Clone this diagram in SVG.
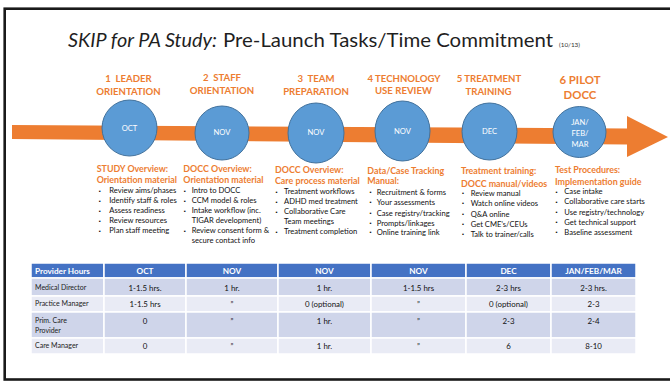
<svg xmlns="http://www.w3.org/2000/svg" width="670" height="382" viewBox="0 0 670 382">
<style>
text{font-family:Lato,"Open Sans","Liberation Sans",sans-serif}
.ttl{font-size:20px;fill:#1f1f1f}
.hd{font-size:9.6px;font-weight:bold;fill:#ED7D31;text-anchor:middle}
.hd6{font-size:11.4px;font-weight:bold;fill:#ED7D31;text-anchor:middle}
.cir{fill:#5B9BD5;stroke:#41719C;stroke-width:1}
.ct{font-size:7.6px;fill:#fff;text-anchor:middle}
.ch{font-size:8.9px;font-weight:bold;fill:#ED7D31}
.bl{font-size:7.6px;fill:#111}
.bu{font-size:5px;fill:#111;font-family:"DejaVu Sans",sans-serif}
.th{fill:#4472C4;stroke:#fff;stroke-width:1.5}
.r1{fill:#CFD5EA;stroke:#fff;stroke-width:1.5}
.r2{fill:#E9EBF5;stroke:#fff;stroke-width:1.5}
.tht{font-size:8.2px;font-weight:bold;fill:#fff}
.lab{font-size:7px;fill:#222}
.num{font-size:7.9px;fill:#111;text-anchor:middle}
</style>
<rect x="0" y="0" width="670" height="382" fill="#fff"/>
<rect x="4.7" y="8.7" width="700" height="370.8" fill="none" stroke="#1a1a1a" stroke-width="2.6"/>
<g id="title">
<text class="ttl" x="68" y="47" font-style="italic" fill="#000" textLength="149" lengthAdjust="spacingAndGlyphs">SKIP for PA Study:</text>
<text class="ttl" x="223" y="47" textLength="330" lengthAdjust="spacingAndGlyphs">Pre-Launch Tasks/Time Commitment</text>
<text x="559" y="47" font-size="5" fill="#333" textLength="21" lengthAdjust="spacingAndGlyphs">(10/13)</text>
</g>
<g id="connectors">
<polygon points="12,125 627,128.5 627,116 668,137 627,157 627,144.5 12,139" fill="#ED7D31"/>
</g>
<g id="node1">
<text class="hd" x="128.5" y="82" xml:space="preserve">1  LEADER</text>
<text class="hd" x="128.5" y="95">ORIENTATION</text>
<ellipse class="cir" cx="129.5" cy="128" rx="27.5" ry="28"/>
<text class="ct" x="129.5" y="130.7">OCT</text>
</g>
<g id="node2">
<text class="hd" x="222" y="81" xml:space="preserve">2  STAFF</text>
<text class="hd" x="222" y="94">ORIENTATION</text>
<ellipse class="cir" cx="222" cy="133" rx="27" ry="27"/>
<text class="ct" x="222" y="134.5">NOV</text>
</g>
<g id="node3">
<text class="hd" x="316" y="82" xml:space="preserve">3  TEAM</text>
<text class="hd" x="316" y="95">PREPARATION</text>
<ellipse class="cir" cx="316" cy="133" rx="28" ry="30"/>
<text class="ct" x="316" y="135">NOV</text>
</g>
<g id="node4">
<text class="hd" x="404" y="82">4 TECHNOLOGY</text>
<text class="hd" x="403.5" y="94">USE REVIEW</text>
<ellipse class="cir" cx="402.5" cy="131" rx="27.5" ry="30"/>
<text class="ct" x="402.5" y="133.5">NOV</text>
</g>
<g id="node5">
<text class="hd" x="489" y="82">5 TREATMENT</text>
<text class="hd" x="488.5" y="95">TRAINING</text>
<ellipse class="cir" cx="489.5" cy="131.5" rx="27.5" ry="28.5"/>
<text class="ct" x="489.5" y="134.3">DEC</text>
</g>
<g id="node6">
<text class="hd6" x="580" y="84">6 PILOT</text>
<text class="hd6" x="580" y="99">DOCC</text>
<ellipse class="cir" cx="579.5" cy="132" rx="26.5" ry="25.5"/>
<text class="ct" x="580" y="124.7">JAN/</text>
<text class="ct" x="580" y="135.7">FEB/</text>
<text class="ct" x="580" y="146.7">MAR</text>
</g>
<g id="col1">
<text class="ch" x="96.7" y="172.3">STUDY Overview:</text>
<text class="ch" x="96.7" y="183.3">Orientation material</text>
<g class="bu"><text x="98.5" y="192.5">▪</text><text x="98.5" y="202.5">▪</text><text x="98.5" y="212.5">▪</text><text x="98.5" y="222.5">▪</text><text x="98.5" y="232.5">▪</text></g>
<text class="bl" x="109.3" y="193.3">Review aims/phases</text>
<text class="bl" x="109.3" y="203.3">Identify staff &amp; roles</text>
<text class="bl" x="109.3" y="213.3">Assess readiness</text>
<text class="bl" x="109.3" y="223.3">Review resources</text>
<text class="bl" x="109.3" y="233.3">Plan staff meeting</text>
</g>
<g id="col2">
<text class="ch" x="183.3" y="172.3">DOCC Overview:</text>
<text class="ch" x="183.3" y="183.3">Orientation material</text>
<g class="bu"><text x="183.5" y="192.5">▪</text><text x="183.5" y="202.5">▪</text><text x="183.5" y="212.5">▪</text><text x="183.5" y="232.5">▪</text></g>
<text class="bl" x="191.7" y="193.3">Intro to DOCC</text>
<text class="bl" x="191.7" y="203.3">CCM model &amp; roles</text>
<text class="bl" x="191.7" y="213.3">Intake workflow (inc.</text>
<text class="bl" x="191.7" y="223.3">TIGAR development)</text>
<text class="bl" x="191.7" y="233.3">Review consent form &amp;</text>
<text class="bl" x="191.7" y="243.3">secure contact info</text>
</g>
<g id="col3">
<text class="ch" x="275" y="173.3">DOCC Overview:</text>
<text class="ch" x="275" y="184.3">Care process material</text>
<g class="bu"><text x="275.2" y="193.5">▪</text><text x="275.2" y="203.5">▪</text><text x="275.2" y="213.5">▪</text><text x="275.2" y="233.5">▪</text></g>
<text class="bl" x="284" y="194.3">Treatment workflows</text>
<text class="bl" x="284" y="204.3">ADHD med treatment</text>
<text class="bl" x="284" y="214.3">Collaborative Care</text>
<text class="bl" x="284" y="224.3">Team meetings</text>
<text class="bl" x="284" y="234.3">Treatment completion</text>
</g>
<g id="col4">
<text class="ch" x="367.3" y="174">Data/Case Tracking</text>
<text class="ch" x="367.3" y="184.3">Manual:</text>
<g class="bu"><text x="369.2" y="194.2">▪</text><text x="369.2" y="204.2">▪</text><text x="369.2" y="214.9">▪</text><text x="369.2" y="224.9">▪</text><text x="369.2" y="234.2">▪</text></g>
<text class="bl" x="376.7" y="195">Recruitment &amp; forms</text>
<text class="bl" x="376.7" y="205">Your assessments</text>
<text class="bl" x="376.7" y="215.7">Case registry/tracking</text>
<text class="bl" x="376.7" y="225.7">Prompts/linkages</text>
<text class="bl" x="376.7" y="235">Online training link</text>
</g>
<g id="col5">
<text class="ch" x="461" y="174">Treatment training:</text>
<text class="ch" x="461" y="186.7">DOCC manual/videos</text>
<g class="bu"><text x="461.8" y="194.9">▪</text><text x="461.8" y="204.9">▪</text><text x="461.8" y="215.9">▪</text><text x="461.8" y="225.9">▪</text><text x="461.8" y="235.9">▪</text></g>
<text class="bl" x="470.7" y="195.7">Review manual</text>
<text class="bl" x="470.7" y="205.7">Watch online videos</text>
<text class="bl" x="470.7" y="216.7">Q&amp;A online</text>
<text class="bl" x="470.7" y="226.7">Get CME’s/CEUs</text>
<text class="bl" x="470.7" y="236.7">Talk to trainer/calls</text>
</g>
<g id="col6">
<text class="ch" x="555" y="173.3">Test Procedures:</text>
<text class="ch" x="555" y="185">Implementation guide</text>
<g class="bu"><text x="555.2" y="193.5">▪</text><text x="555.2" y="203.5">▪</text><text x="555.2" y="214.2">▪</text><text x="555.2" y="224.2">▪</text><text x="555.2" y="234.2">▪</text></g>
<text class="bl" x="564.3" y="194.3">Case intake</text>
<text class="bl" x="564.3" y="204.3">Collaborative care starts</text>
<text class="bl" x="564.3" y="215">Use registry/technology</text>
<text class="bl" x="564.3" y="225">Get technical support</text>
<text class="bl" x="564.3" y="235">Baseline assessment</text>
</g>
<g id="table">
<rect class="th" x="31" y="263" width="73" height="15"/>
<rect class="th" x="104" y="263" width="82" height="15"/>
<rect class="th" x="186" y="263" width="92" height="15"/>
<rect class="th" x="278" y="263" width="93" height="15"/>
<rect class="th" x="371" y="263" width="95" height="15"/>
<rect class="th" x="466" y="263" width="85" height="15"/>
<rect class="th" x="551" y="263" width="85" height="15"/>
<rect class="r1" x="31" y="278" width="73" height="18"/>
<rect class="r1" x="104" y="278" width="82" height="18"/>
<rect class="r1" x="186" y="278" width="92" height="18"/>
<rect class="r1" x="278" y="278" width="93" height="18"/>
<rect class="r1" x="371" y="278" width="95" height="18"/>
<rect class="r1" x="466" y="278" width="85" height="18"/>
<rect class="r1" x="551" y="278" width="85" height="18"/>
<rect class="r2" x="31" y="296" width="73" height="16"/>
<rect class="r2" x="104" y="296" width="82" height="16"/>
<rect class="r2" x="186" y="296" width="92" height="16"/>
<rect class="r2" x="278" y="296" width="93" height="16"/>
<rect class="r2" x="371" y="296" width="95" height="16"/>
<rect class="r2" x="466" y="296" width="85" height="16"/>
<rect class="r2" x="551" y="296" width="85" height="16"/>
<rect class="r1" x="31" y="312" width="73" height="26"/>
<rect class="r1" x="104" y="312" width="82" height="26"/>
<rect class="r1" x="186" y="312" width="92" height="26"/>
<rect class="r1" x="278" y="312" width="93" height="26"/>
<rect class="r1" x="371" y="312" width="95" height="26"/>
<rect class="r1" x="466" y="312" width="85" height="26"/>
<rect class="r1" x="551" y="312" width="85" height="26"/>
<rect class="r2" x="31" y="338" width="73" height="16"/>
<rect class="r2" x="104" y="338" width="82" height="16"/>
<rect class="r2" x="186" y="338" width="92" height="16"/>
<rect class="r2" x="278" y="338" width="93" height="16"/>
<rect class="r2" x="371" y="338" width="95" height="16"/>
<rect class="r2" x="466" y="338" width="85" height="16"/>
<rect class="r2" x="551" y="338" width="85" height="16"/>
<text class="tht" x="35" y="274">Provider Hours</text>
<text class="tht" x="145" y="274" text-anchor="middle">OCT</text>
<text class="tht" x="232" y="274" text-anchor="middle">NOV</text>
<text class="tht" x="324.5" y="274" text-anchor="middle">NOV</text>
<text class="tht" x="418.5" y="274" text-anchor="middle">NOV</text>
<text class="tht" x="508.5" y="274" text-anchor="middle">DEC</text>
<text class="tht" x="593.5" y="274" text-anchor="middle">JAN/FEB/MAR</text>
<text class="lab" x="35" y="289.8">Medical Director</text>
<text class="num" x="145" y="290.5">1-1.5 hrs.</text>
<text class="num" x="232" y="290.5">1 hr.</text>
<text class="num" x="324.5" y="290.5">1 hr.</text>
<text class="num" x="418.5" y="290.5">1-1.5 hrs</text>
<text class="num" x="508.5" y="290.5">2-3 hrs</text>
<text class="num" x="593.5" y="290.5">2-3 hrs.</text>
<text class="lab" x="35" y="306">Practice Manager</text>
<text class="num" x="145" y="306.5">1-1.5 hrs</text>
<text class="num" x="232" y="306.5">”</text>
<text class="num" x="324.5" y="306.5">0 (optional)</text>
<text class="num" x="418.5" y="306.5">”</text>
<text class="num" x="508.5" y="306.5">0 (optional)</text>
<text class="num" x="593.5" y="306.5">2-3</text>
<text class="lab" x="35" y="323.2">Prim. Care</text>
<text class="lab" x="35" y="332.5">Provider</text>
<text class="num" x="145" y="323.5">0</text>
<text class="num" x="232" y="323.5">”</text>
<text class="num" x="324.5" y="323.5">1 hr.</text>
<text class="num" x="418.5" y="323.5">”</text>
<text class="num" x="508.5" y="323.5">2-3</text>
<text class="num" x="593.5" y="323.5">2-4</text>
<text class="lab" x="35" y="348">Care Manager</text>
<text class="num" x="145" y="348.5">0</text>
<text class="num" x="232" y="348.5">”</text>
<text class="num" x="324.5" y="348.5">1 hr.</text>
<text class="num" x="418.5" y="348.5">”</text>
<text class="num" x="508.5" y="348.5">6</text>
<text class="num" x="593.5" y="348.5">8-10</text>
</g>
</svg>
